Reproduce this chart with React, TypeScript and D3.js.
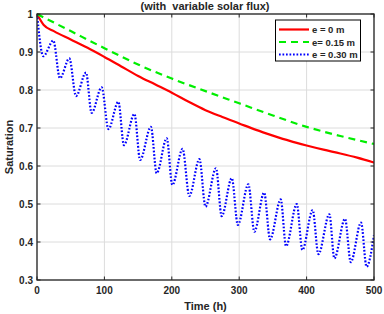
import React from 'react';
import * as d3 from 'd3';

// e = 0 m (solid red)
const redTime = [0, 10, 25, 50, 75, 100, 125, 150, 175, 200, 225, 250, 275, 300, 325, 350, 375, 400, 425, 450, 475, 500];
const redValue = [1.0, 0.971, 0.955, 0.933, 0.911, 0.887, 0.862, 0.837, 0.815, 0.793, 0.769, 0.747, 0.729, 0.712, 0.695, 0.68, 0.666, 0.654, 0.643, 0.633, 0.622, 0.609];

// e = 0.15 m (dashed green)
const greenTime = [0, 50, 100, 150, 200, 250, 300, 350, 400, 450, 500];
const greenValue = [1.0, 0.955, 0.91, 0.867, 0.83, 0.797, 0.765, 0.733, 0.703, 0.679, 0.658];

// e = 0.30 m (dotted blue), read at the daily peaks and troughs
const blueTime = [0, 9.4, 24.2, 34, 48, 57.9, 72.7, 81, 96, 106, 120.7, 129, 144.5, 153, 169, 177.6, 192.5, 200.8, 216, 226, 241, 250, 265.6, 274, 289, 298, 313.6, 322.5, 337, 345.8, 361.6, 369.5, 385.4, 393.7, 409, 417.5, 433.8, 441.2, 457, 465.5, 480.8, 489, 500];
const blueValue = [1.0, 0.889, 0.93, 0.831, 0.883, 0.784, 0.846, 0.74, 0.807, 0.697, 0.769, 0.655, 0.737, 0.616, 0.703, 0.581, 0.673, 0.55, 0.645, 0.521, 0.618, 0.493, 0.594, 0.468, 0.568, 0.445, 0.552, 0.427, 0.53, 0.407, 0.512, 0.389, 0.5, 0.379, 0.484, 0.368, 0.473, 0.357, 0.461, 0.347, 0.451, 0.335, 0.418];

const xTicks = [0, 100, 200, 300, 400, 500];
const yTicks = [0.3, 0.4, 0.5, 0.6, 0.7, 0.8, 0.9, 1];

const legendLabels = ['e = 0 m', 'e= 0.15 m', 'e = 0.30 m'];

const width = 384;
const height = 314;
const margin = { top: 14, right: 10, bottom: 34, left: 37 };
const font = '"Liberation Sans", Arial, sans-serif';

const App: React.FC = () => {
  const x = d3.scaleLinear().domain([0, 500]).range([margin.left, width - margin.right]);
  const y = d3.scaleLinear().domain([0.3, 1]).range([height - margin.bottom, margin.top]);

  const line = d3.line<[number, number]>()
    .x(d => x(d[0]))
    .y(d => y(d[1]))
    .curve(d3.curveMonotoneX);

  const zip = (t: number[], v: number[]) => t.map((tt, i) => [tt, v[i]] as [number, number]);

  const series = [
    { pts: zip(redTime, redValue), color: '#ff0000', dash: '', w: 2.2 },
    { pts: zip(greenTime, greenValue), color: '#00ee00', dash: '7,5', w: 2.2 },
    { pts: zip(blueTime, blueValue), color: '#0000ff', dash: '1.7,1.8', w: 2.2 },
  ];

  const x0 = margin.left;
  const x1 = width - margin.right;
  const y0 = height - margin.bottom;
  const y1 = margin.top;
  const axisColor = '#262626';

  return (
    <svg width={width} height={height} style={{ position: 'absolute', left: 0, top: 0 }} fontFamily={font}>
      <rect x={0} y={0} width={width} height={height} fill="#ffffff" />
      {/* grid */}
      {xTicks.map(t => (
        <line key={'gx' + t} x1={x(t)} x2={x(t)} y1={y1} y2={y0} stroke="#dcdcdc" strokeWidth={1} />
      ))}
      {yTicks.map(t => (
        <line key={'gy' + t} x1={x0} x2={x1} y1={y(t)} y2={y(t)} stroke="#dcdcdc" strokeWidth={1} />
      ))}
      <defs>
        <clipPath id="plot-clip">
          <rect x={x0} y={y1 - 2} width={x1 - x0} height={y0 - y1 + 4} />
        </clipPath>
      </defs>
      <g clipPath="url(#plot-clip)">
        {series.map((s, i) => (
          <path key={i} d={line(s.pts) || ''} fill="none" stroke={s.color} strokeWidth={s.w}
            strokeDasharray={s.dash || undefined} />
        ))}
      </g>
      {/* box and ticks */}
      <rect x={x0} y={y1} width={x1 - x0} height={y0 - y1} fill="none" stroke={axisColor} strokeWidth={1.3} />
      {xTicks.map(t => (
        <g key={'tx' + t}>
          <line x1={x(t)} x2={x(t)} y1={y0} y2={y0 - 3.5} stroke={axisColor} strokeWidth={1} />
          <line x1={x(t)} x2={x(t)} y1={y1} y2={y1 + 3.5} stroke={axisColor} strokeWidth={1} />
          <text x={x(t)} y={y0 + 14} textAnchor="middle" fontSize={10} fontWeight="bold" fill={axisColor}>{t}</text>
        </g>
      ))}
      {yTicks.map(t => (
        <g key={'ty' + t}>
          <line x1={x0} x2={x0 + 3.5} y1={y(t)} y2={y(t)} stroke={axisColor} strokeWidth={1} />
          <line x1={x1} x2={x1 - 3.5} y1={y(t)} y2={y(t)} stroke={axisColor} strokeWidth={1} />
          <text x={x0 - 4} y={y(t) + 3.5} textAnchor="end" fontSize={10} fontWeight="bold" fill={axisColor}>{t}</text>
        </g>
      ))}
      {/* labels */}
      <text x={(x0 + x1) / 2} y={y0 + 30} textAnchor="middle" fontSize={11} fontWeight="bold" fill={axisColor}>Time (h)</text>
      <text transform={`translate(13,${(y0 + y1) / 2}) rotate(-90)`} textAnchor="middle" fontSize={11} fontWeight="bold" fill={axisColor}>Saturation</text>
      <text x={205} y={10} textAnchor="middle" fontSize={11} fontWeight="bold" fill={axisColor} xmlSpace="preserve">(with  variable solar flux)</text>
      {/* legend */}
      <g>
        <rect x={275.5} y={20} width={85} height={41} fill="#ffffff" stroke="#000000" strokeWidth={1} />
        {series.map((s, i) => (
          <g key={'lg' + i}>
            <line x1={279} x2={309} y1={29.5 + i * 12.5} y2={29.5 + i * 12.5} stroke={s.color} strokeWidth={s.w}
              strokeDasharray={s.dash || undefined} />
            <text x={312} y={29.5 + i * 12.5 + 3.5} fontSize={9.5} fontWeight="bold" fill={axisColor}>{legendLabels[i]}</text>
          </g>
        ))}
      </g>
    </svg>
  );
};

export default App;
